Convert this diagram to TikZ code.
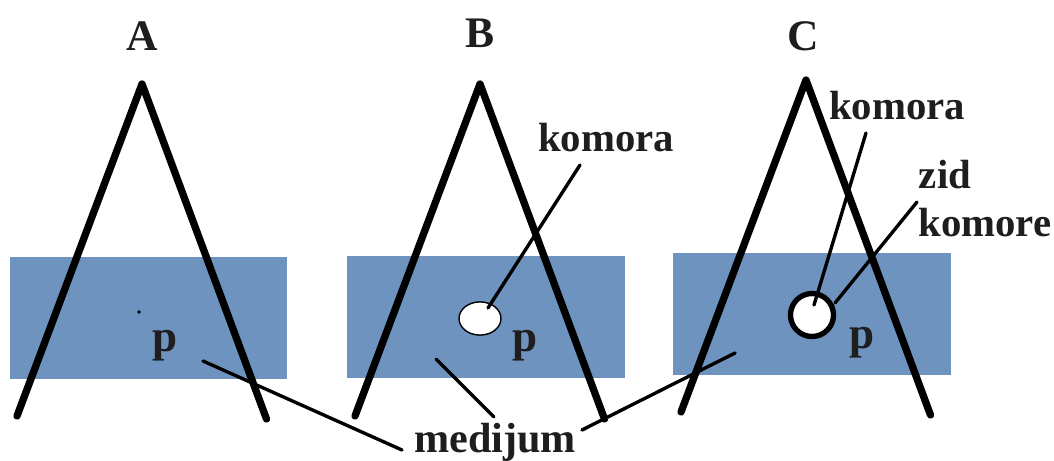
\documentclass[tikz,border=0pt]{standalone}
\usepackage{fontspec}
\setmainfont{Liberation Serif}
\usetikzlibrary{shapes.geometric}
\definecolor{mediumcolor}{RGB}{111,147,191}
\definecolor{labelcolor}{RGB}{30,30,30}
\tikzset{
  medium/.style={fill=mediumcolor, draw=none},
  wedge/.style={draw=black, line width=5.2pt, line cap=round, line join=round},
  lead/.style={draw=black, line width=2.4pt, line cap=round},
  lbl/.style={font=\fontsize{29}{30}\selectfont\bfseries, text=labelcolor, inner sep=0pt},
  title/.style={font=\fontsize{31}{32}\selectfont\bfseries, text=labelcolor, inner sep=0pt},
  press/.style={font=\fontsize{32}{33}\selectfont\bfseries, text=labelcolor, inner sep=0pt},
}
\newcommand{\block}[9]{%
  \fill[medium] (#1,#2) rectangle (#3,#4);
  \draw[wedge] (#5-125,#6+332) -- (#5,#6) -- (#5+124.5,#6+335);
  \node[press] (p#7) at (#8,#9) {p};
}
\begin{document}
\begin{tikzpicture}[x=0.025cm, y=-0.025cm]
    \useasboundingbox (0,0) rectangle (1054,461);
    % Blocks (x1, y1, x2, y2, apex x, apex y, name, p x, p y)
    \block{10}{257}{287}{379}{142}{84}{A}{165}{346}
    \block{347}{256}{625}{378}{480}{84}{B}{525}{346}
    \block{673}{253}{951}{375}{806}{80}{C}{862}{343}
    % Titles
    \node[title] (tA) at (142,36) {A};
    \node[title] (tB) at (480,33) {B};
    \node[title] (tC) at (803,36) {C};
    % Cavities
    \fill[black] (139,312) circle (1.8);
    \node[draw=black, fill=white, line width=1pt, ellipse, outer sep=0pt, minimum width=1.05cm, minimum height=0.83cm, inner sep=0pt] (cavB) at (480,318.5) {};
    \node[draw=black, fill=white, line width=3.8pt, circle, outer sep=0pt, minimum size=1.075cm, inner sep=0pt] (cavC) at (812,315) {};
    % Labels
    \node[lbl] (komB) at (606,138) {komora};
    \node[lbl] (komC) at (897,106) {komora};
    \node[lbl] (zid) at (945,175) {zid};
    \node[lbl] (komW) at (985,223) {komore};
    \node[lbl, font=\fontsize{30}{31}\selectfont\bfseries] (med) at (495,442) {medijum};
    % Free ends of the leaders
    \coordinate (mA) at (203,361);
    \coordinate (mAe) at (402,450);
    \coordinate (mB) at (436,359);
    \coordinate (mBe) at (494,417);
    \coordinate (mC) at (735,353);
    \coordinate (mCe) at (582,430);
    \coordinate (kB) at (580,165);
    \coordinate (kBe) at (488,308);
    \coordinate (kC) at (866,133);
    \coordinate (kCe) at (814,305);
    \coordinate (zC) at (917,202);
    \coordinate (zCe) at (835,303);
    % Leaders
    \draw[lead] (mA) -- (mAe);
    \draw[lead] (mB) -- (mBe);
    \draw[lead] (mC) -- (mCe);
    \draw[lead] (kB) -- (kBe);
    \draw[lead] (kC) -- (kCe);
    \draw[lead] (zC) -- (zCe);
\end{tikzpicture}
\end{document}
